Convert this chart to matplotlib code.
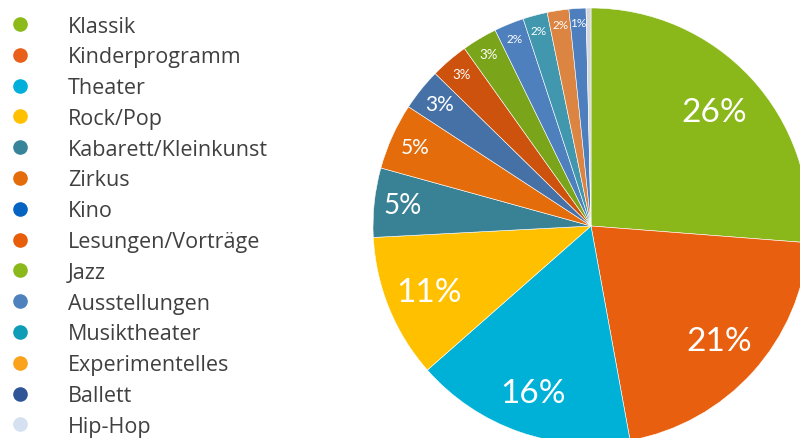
import numpy as np
import matplotlib
matplotlib.use("Agg")
import matplotlib.pyplot as plt
from matplotlib.lines import Line2D

# Angebote (Anteile in %)
categories = ["Klassik", "Kinderprogramm", "Theater", "Rock/Pop",
              "Kabarett/Kleinkunst", "Zirkus", "Kino", "Lesungen/Vorträge",
              "Jazz", "Ausstellungen", "Musiktheater", "Experimentelles",
              "Ballett", "Hip-Hop"]
shares = [26.1, 20.8, 16.3, 10.6, 5.1, 4.9, 3.1, 2.8, 2.6, 2.2, 1.8, 1.6, 1.25, 0.36]

slice_colors = ["#8AB81A", "#E85F0F", "#00B1D7", "#FFC000", "#398195", "#E46C0A",
                "#4571A7", "#CD520D", "#7AA419", "#4E80BD", "#4097AE", "#DC8441",
                "#4D7EBE", "#D4D8DE"]
legend_colors = ["#8BBA1A", "#E8601A", "#00B0DA", "#FFC000", "#37849A", "#E46C0A",
                 "#0563C1", "#E85D0A", "#8BB81A", "#4F81BD", "#0E9CB7", "#F9A21A",
                 "#2F5597", "#D5E1F0"]

# label size and radial position per slice
label_sizes = [24, 24, 24, 24, 20, 15, 15, 9.5, 9.5, 8.5, 8.5, 8.5, 8.5, 8]
label_dist = [0.77, 0.79, 0.81, 0.80, 0.87, 0.885, 0.89, 0.915, 0.92, 0.93, 0.93, 0.935, 0.935, 0.94]

fig = plt.figure(figsize=(8, 4.39), dpi=100)
W, H = 800, 439
cx, cy, r = 591, 227, 218
ax = fig.add_axes([(cx - r) / W, (H - cy - r) / H, 2 * r / W, 2 * r / H])

wedges, _ = ax.pie(shares, colors=slice_colors, startangle=90, counterclock=False,
                   wedgeprops=dict(edgecolor="white", linewidth=0.4))
ax.set_xlim(-1, 1)
ax.set_ylim(-1, 1)
ax.set_aspect("equal")
ax.axis("off")

total = sum(shares)
for w, v, fs, d in zip(wedges, shares, label_sizes, label_dist):
    pct = v / total * 100
    if pct < 0.5:
        continue
    ang = np.deg2rad((w.theta1 + w.theta2) / 2)
    ax.text(d * np.cos(ang), d * np.sin(ang), "%.0f%%" % pct, ha="center", va="center",
            color="white", fontsize=fs, family="Lato", clip_on=False)

handles = [Line2D([], [], marker="o", linestyle="none", markersize=9.5,
                  markerfacecolor=c, markeredgecolor=c) for c in legend_colors]
fig.legend(handles, categories, loc="upper left", bbox_to_anchor=(0.0, 0.982),
           frameon=False, handlelength=1.06, handletextpad=1.7,
           labelspacing=0.455, borderaxespad=0, labelcolor="#404040",
           prop=dict(family="Open Sans", size=15.5))

fig.savefig("out.png", dpi=100)
